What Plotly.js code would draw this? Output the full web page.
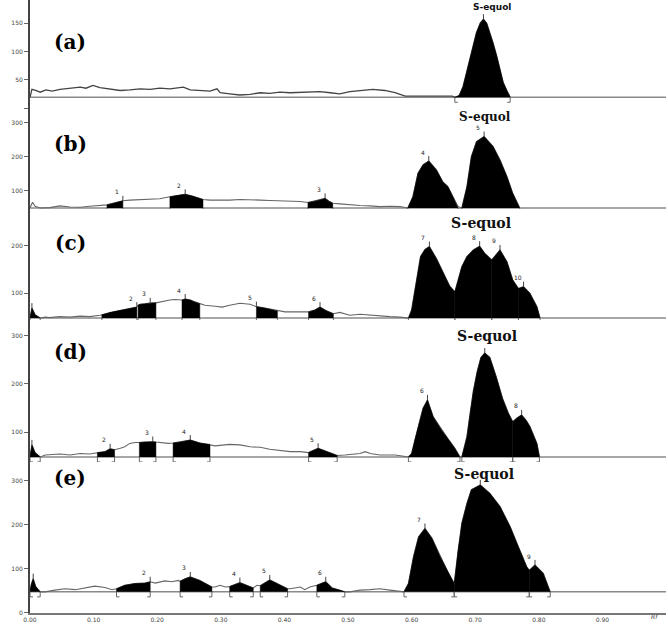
<!DOCTYPE html>
<html><head><meta charset="utf-8">
<script src="https://cdn.plot.ly/plotly-3.0.1.min.js"></script>
<style>html,body{margin:0;padding:0;background:#fff}</style>
</head><body><div id="chart" style="width:668px;height:628px"></div>
<script>
// ---------- Data (Rf, intensity) ----------
const rfA = [0.000,0.003,0.009,0.016,0.025,0.035,0.047,0.063,0.079,0.088,0.099,0.110,0.126,0.142,0.157,0.173,0.189,0.204,0.220,0.241,0.252,0.267,0.283,0.294,0.299,0.314,0.330,0.346,0.362,0.377,0.393,0.409,0.425,0.440,0.456,0.472,0.487,0.503,0.519,0.539,0.558,0.574,0.590,0.605,0.621,0.645,0.664,0.668,0.675,0.681,0.686,0.692,0.697,0.702,0.708,0.713,0.718,0.723,0.728,0.734,0.739,0.744,0.750,0.755];
const intA = [19,33,31,28,32,30,33,35,37,35,40,36,33,31,32,34,33,35,34,37,32,31,30,34,27,25,23,24,27,26,28,27,28,28,29,27,25,29,31,33,31,27,21,21,21,22,21,19,22,38,60,85,110,133,150,157,150,133,115,91,65,45,30,19];
const baseA = 19;
const peakStartA = [0.668];
const peakEndA = [0.755];
const peakLabelA = [''];
const sEquolA = 0;

const rfB = [0.000,0.002,0.004,0.008,0.016,0.031,0.047,0.063,0.079,0.094,0.110,0.121,0.131,0.138,0.146,0.157,0.173,0.189,0.204,0.220,0.233,0.244,0.255,0.272,0.283,0.299,0.314,0.330,0.346,0.362,0.377,0.393,0.409,0.425,0.437,0.448,0.456,0.464,0.470,0.476,0.487,0.503,0.519,0.535,0.550,0.566,0.582,0.594,0.602,0.610,0.618,0.627,0.639,0.649,0.657,0.665,0.673,0.679,0.687,0.694,0.702,0.714,0.728,0.739,0.750,0.759,0.770];
const intB = [50,62,67,55,50,51,56,53,52,55,57,59,64,68,71,73,75,76,77,83,87,90,85,75,73,72,73,75,73,73,72,71,70,69,66,70,73,78,70,64,62,59,57,56,54,55,54,50,83,152,177,188,162,127,113,83,54,50,113,201,245,260,231,191,142,93,50];
const baseB = 50;
const peakStartB = [0.121,0.220,0.437,0.594,0.679];
const peakEndB = [0.146,0.272,0.476,0.673,0.770];
const peakLabelB = ['1','2','3','4','5'];
const sEquolB = 4;

const rfC = [0.000,0.003,0.008,0.016,0.024,0.031,0.047,0.063,0.079,0.094,0.110,0.113,0.126,0.142,0.157,0.168,0.170,0.173,0.181,0.189,0.198,0.204,0.220,0.228,0.239,0.244,0.252,0.259,0.267,0.275,0.291,0.302,0.314,0.330,0.346,0.356,0.369,0.389,0.401,0.417,0.432,0.438,0.448,0.456,0.465,0.477,0.487,0.503,0.519,0.535,0.550,0.566,0.582,0.595,0.600,0.607,0.614,0.621,0.628,0.639,0.652,0.660,0.668,0.679,0.687,0.697,0.707,0.715,0.726,0.739,0.750,0.759,0.768,0.776,0.786,0.797,0.802];
const intC = [48,69,55,48,50,49,51,50,52,51,54,55,60,64,68,71,75,77,78,80,80,82,86,87,86,88,86,82,78,75,73,71,75,79,77,72,69,63,61,61,62,61,65,71,64,57,60,54,56,54,52,51,50,48,65,121,177,192,198,173,135,115,103,156,177,191,199,184,170,191,166,128,110,114,100,72,48];
const baseC = 48;
const peakStartC = [0.000,0.113,0.170,0.239,0.356,0.438,0.595,0.668,0.726,0.768];
const peakEndC = [0.016,0.168,0.198,0.267,0.389,0.477,0.668,0.726,0.768,0.802];
const peakLabelC = ['','2','3','4','5','6','7','8','9','10'];
const sEquolC = 7;

const rfD = [0.000,0.003,0.008,0.016,0.024,0.047,0.063,0.079,0.094,0.106,0.118,0.126,0.133,0.142,0.149,0.157,0.165,0.172,0.181,0.193,0.198,0.204,0.217,0.225,0.236,0.252,0.267,0.283,0.291,0.314,0.330,0.346,0.362,0.377,0.393,0.409,0.425,0.438,0.453,0.464,0.476,0.483,0.495,0.511,0.519,0.527,0.535,0.550,0.574,0.585,0.595,0.600,0.605,0.612,0.618,0.625,0.634,0.647,0.657,0.668,0.676,0.679,0.687,0.692,0.697,0.703,0.709,0.715,0.723,0.733,0.743,0.752,0.759,0.766,0.773,0.780,0.786,0.797,0.801];
const intD = [49,74,58,49,53,55,53,56,55,58,60,66,64,67,70,77,79,79,80,81,80,79,77,78,80,84,78,75,72,75,74,70,69,65,62,60,60,58,67,62,56,52,53,54,56,60,56,53,53,51,49,56,84,119,150,167,132,105,87,67,49,49,91,139,185,225,255,264,255,215,170,140,122,130,136,125,112,77,49];
const baseD = 49;
const peakStartD = [0.000,0.106,0.172,0.225,0.438,0.595,0.679,0.759];
const peakEndD = [0.016,0.133,0.198,0.283,0.483,0.676,0.759,0.801];
const peakLabelD = ['','2','3','4','5','6','','8'];
const sEquolD = 6;

const rfE = [0.000,0.002,0.005,0.009,0.016,0.024,0.039,0.055,0.071,0.086,0.102,0.118,0.129,0.136,0.149,0.165,0.181,0.189,0.197,0.212,0.223,0.233,0.236,0.244,0.252,0.267,0.286,0.291,0.299,0.307,0.314,0.330,0.341,0.351,0.357,0.362,0.377,0.390,0.405,0.409,0.425,0.432,0.440,0.451,0.465,0.475,0.487,0.495,0.503,0.519,0.535,0.550,0.566,0.582,0.588,0.595,0.603,0.611,0.621,0.632,0.645,0.658,0.667,0.673,0.679,0.687,0.694,0.708,0.723,0.739,0.755,0.768,0.781,0.785,0.794,0.807,0.815,0.818];
const intE = [48,65,78,60,48,48,52,55,53,57,61,58,53,55,63,67,68,71,68,73,71,74,72,78,82,74,59,59,63,59,60,69,62,57,63,62,75,66,55,55,59,53,59,63,71,57,52,48,48,52,53,55,52,50,48,67,128,173,192,170,128,90,67,143,204,249,280,291,272,242,196,150,105,97,109,90,59,48];
const baseE = 48;
const peakStartE = [0.000,0.136,0.236,0.314,0.362,0.451,0.588,0.667,0.785];
const peakEndE = [0.016,0.189,0.286,0.351,0.405,0.495,0.667,0.785,0.818];
const peakLabelE = ['','2','3','4','5','6','7','','9'];
const sEquolE = 7;

const panelNames = ['(a)','(b)','(c)','(d)','(e)'];
const xTickVals = [0,0.1,0.2,0.3,0.4,0.5,0.6,0.7,0.8,0.9];
const xTickText = ['0.00','0.10','0.20','0.30','0.40','0.50','0.60','0.70','0.80','0.90'];
const yTickVals = [[0,50,100,150],[100,200,300],[100,200],[100,200,300],[0,100,200,300]];
const yTickText = [['','50','100','150'],['100','200','300'],['100','200'],['100','200','300'],['0','100','200','300']];

// ---------- Layout geometry ----------
const W = 668, H = 628, ML = 30, MR = 2, MT = 0, MB = 15;
const plotW = W - ML - MR, plotH = H - MT - MB;
const domains = [[0.8238,1],[0.6591,0.8238],[0.4780,0.6591],[0.2463,0.4780],[0,0.2463]];
const ranges = [[0,191],[47,344],[44,277],[38.5,332.5],[0,343]];
const axisIds = ['y','y2','y3','y4','y5'];
const axisKeys = ['yaxis','yaxis2','yaxis3','yaxis4','yaxis5'];

// S-equol label style per panel: [font family, size, xshift, yshift]
const sLabelStyle = [
  ['DejaVu Sans', 9, 9, 12],
  ['DejaVu Serif', 12, 1, 20],
  ['DejaVu Serif', 14, 1, 23],
  ['DejaVu Serif', 14, 2, 17],
  ['DejaVu Serif', 14, 4, 11]
];

const panels = [
  {rf: rfA, v: intA, base: baseA, s: peakStartA, e: peakEndA, lab: peakLabelA, sq: sEquolA},
  {rf: rfB, v: intB, base: baseB, s: peakStartB, e: peakEndB, lab: peakLabelB, sq: sEquolB},
  {rf: rfC, v: intC, base: baseC, s: peakStartC, e: peakEndC, lab: peakLabelC, sq: sEquolC},
  {rf: rfD, v: intD, base: baseD, s: peakStartD, e: peakEndD, lab: peakLabelD, sq: sEquolD},
  {rf: rfE, v: intE, base: baseE, s: peakStartE, e: peakEndE, lab: peakLabelE, sq: sEquolE}
];

const traces = [];
const annotations = [];
const layout = {
  width: W, height: H,
  margin: {l: ML, r: MR, t: MT, b: MB, pad: 0},
  paper_bgcolor: '#fff', plot_bgcolor: '#fff',
  showlegend: false,
  xaxis: {
    domain: [0,1], range: [0,1], anchor: 'y5',
    showline: true, linecolor: '#777', linewidth: 1.5,
    tickvals: xTickVals, ticktext: xTickText, ticks: '',
    tickfont: {size: 6, color: '#444', family: 'DejaVu Sans'},
    showgrid: false, zeroline: false
  }
};

panels.forEach((p, k) => {
  const yid = axisIds[k];
  const ppu = (domains[k][1]-domains[k][0]) * plotH / (ranges[k][1]-ranges[k][0]);
  const dy = 5 / ppu;
  const fx = 3 / plotW;

  layout[axisKeys[k]] = {
    domain: domains[k], range: ranges[k], anchor: 'x',
    showline: true, linecolor: '#444', linewidth: 2,
    ticks: 'outside', ticklen: 4, tickwidth: 1, tickcolor: '#666',
    tickvals: yTickVals[k], ticktext: yTickText[k],
    tickfont: {size: 6, color: '#444', family: 'DejaVu Sans'},
    showgrid: false, zeroline: false
  };

  // baseline
  traces.push({x: [0, 1], y: [p.base, p.base], xaxis: 'x', yaxis: yid, mode: 'lines',
    line: {color: '#8a8a8a', width: 1.5}, hoverinfo: 'skip'});
  // signal
  traces.push({x: p.rf, y: p.v, xaxis: 'x', yaxis: yid, mode: 'lines',
    line: {color: k === 0 ? '#444' : '#666', width: k === 0 ? 1.3 : 1.1}, hoverinfo: 'skip'});

  const bx = [], by = [], tx = [], ty = [];
  p.s.forEach((st, i) => {
    const en = p.e[i];
    const px = [st], py = [p.base];
    let mx = st, my = -Infinity;
    p.rf.forEach((r, j) => {
      if (r >= st - 1e-9 && r <= en + 1e-9) {
        px.push(r); py.push(p.v[j]);
        if (p.v[j] > my) { my = p.v[j]; mx = r; }
      }
    });
    px.push(en); py.push(p.base);
    traces.push({x: px, y: py, xaxis: 'x', yaxis: yid, mode: 'lines', fill: 'toself',
      fillcolor: '#000', line: {color: '#000', width: 0.5}, hoverinfo: 'skip'});
    // brackets
    bx.push(st, st, st + fx, null, en, en, en - fx, null);
    by.push(p.base, p.base - dy, p.base - dy, null, p.base, p.base - dy, p.base - dy, null);
    // top tick
    tx.push(mx, mx, null); ty.push(my, my + dy, null);
    if (p.lab[i]) {
      annotations.push({x: mx, y: my, xref: 'x', yref: yid, text: p.lab[i], showarrow: false,
        xshift: -6, yshift: 9, font: {size: 6, color: '#222', family: 'DejaVu Sans'}});
    }
    if (i === p.sq) {
      const st2 = sLabelStyle[k];
      annotations.push({x: mx, y: my, xref: 'x', yref: yid, text: '<b>S-equol</b>', showarrow: false,
        xshift: st2[2], yshift: st2[3], font: {size: st2[1], color: '#111', family: st2[0]}});
    }
  });
  traces.push({x: bx, y: by, xaxis: 'x', yaxis: yid, mode: 'lines',
    line: {color: '#666', width: 1}, hoverinfo: 'skip', connectgaps: false});
  traces.push({x: tx, y: ty, xaxis: 'x', yaxis: yid, mode: 'lines',
    line: {color: '#444', width: 1}, hoverinfo: 'skip', connectgaps: false});

  // panel label
  const labY = [28, 130, 243, 351.7, 491.7][k];
  annotations.push({x: 0.063, y: (plotH - labY) / plotH, xref: 'x', yref: 'paper',
    text: '<b>' + panelNames[k] + '</b>', showarrow: false,
    font: {size: 20, color: '#000', family: 'DejaVu Serif'}});
});

annotations.push({x: 0.99, y: -0.015, xref: 'paper', yref: 'paper', text: '<i>Rf</i>',
  showarrow: false, font: {size: 6, color: '#444', family: 'DejaVu Sans'}});
layout.annotations = annotations;

Plotly.newPlot('chart', traces, layout, {displayModeBar: false, staticPlot: true});
</script>
</body></html>
